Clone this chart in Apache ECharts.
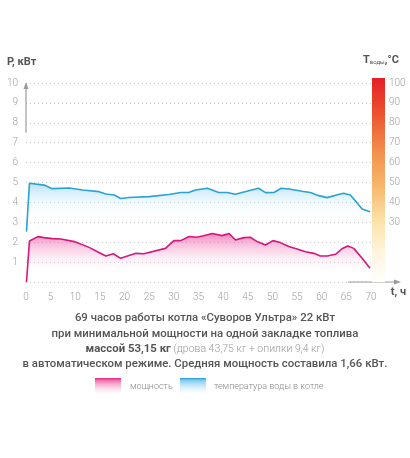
<!DOCTYPE html>
<html><head><meta charset="utf-8">
<script src="https://cdn.jsdelivr.net/npm/echarts@6/dist/echarts.min.js"></script>
<style>html,body{margin:0;padding:0;background:#fff;}#c{width:410px;height:458px;}</style>
</head><body><div id="c"></div>
<script>
// ---- data ----
var xTicks = [0,5,10,15,20,25,30,35,40,45,50,55,60,65,70];
var powerT = [0.1,0.7,2.4,3.7,5.4,7.1,9.8,12.8,14.5,16.2,17.7,19.2,22.3,23.9,28.3,30,31.4,33.1,34.6,36,37.8,39.8,41.2,42.5,44.2,45.5,46.9,48.6,50.1,51.6,53.3,55,56.7,58.4,59.7,61.1,62.8,64.1,65.3,66.5,68.2,69.8];
var powerV = [0,2.06,2.28,2.23,2.18,2.16,2.03,1.74,1.52,1.31,1.42,1.19,1.44,1.42,1.69,2.08,2.08,2.29,2.25,2.32,2.44,2.33,2.44,2.11,2.23,2.25,2.03,1.86,2.08,1.98,1.78,1.66,1.52,1.44,1.31,1.31,1.39,1.67,1.81,1.69,1.19,0.69];
var tempT = [0.1,0.7,3.7,5.3,8.8,11.5,14.8,16.2,17.9,19.2,20.9,25,29,31.4,33,34.4,36.8,39.1,40.8,42.5,45.2,47.2,48.6,50.3,51.8,53.7,56,57.7,59.4,61.1,62.8,64.4,65.8,67.1,68.2,69.8];
var tempV = [25.3,49.6,48.7,46.9,47.2,46.2,45.4,44.2,43.7,42,42.5,42.9,44,45,45,46.2,47.1,45,45,44.1,45.9,47.1,44.9,45,47.1,46.6,45.6,45,43.4,42.4,43.6,44.6,43.7,40,36.7,35.3];
var leftTicks = [1,2,3,4,5,6,7,8,9,10];
var rightTicks = [30,40,50,60,70,80,90,100];
var seriesNames = ['мощность','температура воды в котле'];
var titleLines = ['69 часов работы котла «Суворов Ультра» 22 кВт','при минимальной мощности на одной закладке топлива','массой 53,15 кг',' (дрова 43,75 кг + опилки 9,4 кг)','в автоматическом режиме. Средняя мощность составила 1,66 кВт.'];

var powerData = powerT.map(function(t,i){return [t,powerV[i]];});
var tempData = tempT.map(function(t,i){return [t,tempV[i]];});
var FONT = 'Roboto';
var chart = echarts.init(document.getElementById('c'));
function grad(stops){return new echarts.graphic.LinearGradient(0,0,0,1,stops);}
var option = {
  animation:false,
  textStyle:{fontFamily:FONT},
  grid:{left:26,right:39,top:83,bottom:176,containLabel:false},
  xAxis:{type:'value',min:0,max:70,interval:5,
    axisLine:{show:false},axisTick:{show:false},splitLine:{show:false},
    axisLabel:{color:'#a0a0a0',fontSize:10,fontWeight:300,margin:10,
      formatter:function(v){return xTicks.indexOf(v)>=0?String(v):'';}}},
  yAxis:[{type:'value',min:0,max:10,interval:1,
    axisLine:{show:false},axisTick:{show:false},
    splitLine:{lineStyle:{type:[1,3],color:'#c8c8c8',width:1}},
    axisLabel:{color:'#a0a0a0',fontSize:10,fontWeight:300,margin:8,
      formatter:function(v){return leftTicks.indexOf(v)>=0?String(v):'';}}},
   {type:'value',min:0,max:100,interval:10,position:'right',
    axisLine:{show:false},axisTick:{show:false},splitLine:{show:false},
    axisLabel:{color:'#a0a0a0',fontSize:10,fontWeight:300,margin:18,align:'left',
      formatter:function(v){return rightTicks.indexOf(v)>=0?String(v):'';}}}],
  series:[
   {name:seriesNames[1],type:'line',yAxisIndex:1,data:tempData,symbol:'none',z:2,
    lineStyle:{color:'#27a3d6',width:1.6},
    areaStyle:{origin:'start',color:grad([{offset:0,color:'rgba(120,200,238,0.75)'},{offset:0.36,color:'rgba(255,255,255,0)'},{offset:1,color:'rgba(255,255,255,0)'}])}},
   {name:seriesNames[0],type:'line',yAxisIndex:0,data:powerData,symbol:'none',z:3,
    lineStyle:{color:'#d8167c',width:1.6},
    areaStyle:{origin:'start',color:grad([{offset:0,color:'rgba(234,70,155,0.9)'},{offset:0.85,color:'rgba(255,255,255,0)'},{offset:1,color:'rgba(255,255,255,0)'}])}}
  ]
};
chart.setOption(option);

var p0 = chart.convertToPixel({gridIndex:0},[0,0]);
var p10 = chart.convertToPixel({gridIndex:0},[70,10]);
var p8 = chart.convertToPixel({gridIndex:0},[0,7.5]);
var xL = p0[0], yB = p0[1], xR = p10[0], yT = p10[1];
var gray = '#9c9c9c';
var g = [
  // y arrow
  {type:'line',shape:{x1:xL,y1:p8[1],x2:xL,y2:yT+2},style:{stroke:gray,lineWidth:1.2}},
  {type:'polygon',shape:{points:[[xL-2.5,yT+6],[xL+2.5,yT+6],[xL,yT-1]]},style:{fill:gray}},
  // x arrow
  {type:'line',shape:{x1:xR-23,y1:yB,x2:xR+25,y2:yB},style:{stroke:gray,lineWidth:1.2}},
  {type:'polygon',shape:{points:[[xR+23,yB-2.5],[xR+23,yB+2.5],[xR+30,yB]]},style:{fill:gray}},
  // color bar
  {type:'rect',shape:{x:xR+1,y:yT-5,width:13,height:yB-yT+5},
    style:{fill:grad([{offset:0,color:'#e41e26'},{offset:0.18,color:'#ec5530'},{offset:0.38,color:'#f3954f'},{offset:0.52,color:'#f6b56a'},{offset:0.7,color:'#fbe2a8'},{offset:0.85,color:'#fff4dc'},{offset:1,color:'#ffffff'}])}},
  // axis names
  {type:'text',x:7,y:62,style:{text:'P, кВт',fill:'#555',font:'bold 11px '+FONT,verticalAlign:'middle'}},
  {type:'text',x:xR+35,y:292,style:{text:'t, ч',fill:'#555',font:'bold 11px '+FONT,verticalAlign:'middle',align:'right'}},
  {type:'text',x:363,y:60,style:{text:'{a|T}{b|воды}{a|,°C}',verticalAlign:'middle',
    rich:{a:{fontSize:11,fontWeight:'bold',fill:'#555',fontFamily:FONT},b:{fontSize:6,fill:'#555',fontFamily:FONT,verticalAlign:'bottom',padding:[5,0,0,0]}}}},
  // title text
  {type:'text',x:205,y:318,style:{text:titleLines[0],fill:'#555',font:'500 11.4px '+FONT,align:'center',verticalAlign:'middle'}},
  {type:'text',x:205,y:334,style:{text:titleLines[1],fill:'#555',font:'500 11.4px '+FONT,align:'center',verticalAlign:'middle'}},
  {type:'text',x:205,y:349,style:{text:'{a|'+titleLines[2]+'}{b|'+titleLines[3]+'}',align:'center',verticalAlign:'middle',
    rich:{a:{fontSize:11.4,fontWeight:'bold',fill:'#555',fontFamily:FONT},b:{fontSize:10.5,fontWeight:300,fill:'#999',fontFamily:FONT}}}},
  {type:'text',x:205,y:364,style:{text:titleLines[4],fill:'#555',font:'500 11.4px '+FONT,align:'center',verticalAlign:'middle'}},
  // legend
  {type:'rect',shape:{x:95,y:378,width:26,height:17},style:{fill:grad([{offset:0,color:'#e0207f'},{offset:0.12,color:'#ee6aa8'},{offset:1,color:'rgba(255,255,255,0.2)'}])}},
  {type:'text',x:130,y:387,style:{text:seriesNames[0],fill:'#888',font:'300 9px '+FONT,verticalAlign:'middle'}},
  {type:'rect',shape:{x:180,y:378,width:26,height:17},style:{fill:grad([{offset:0,color:'#1f98d6'},{offset:0.12,color:'#7ccaf0'},{offset:1,color:'rgba(255,255,255,0.2)'}])}},
  {type:'text',x:214,y:387,style:{text:seriesNames[1],fill:'#888',font:'300 9px '+FONT,verticalAlign:'middle'}}
];
chart.setOption({graphic:g});
</script></body></html>
